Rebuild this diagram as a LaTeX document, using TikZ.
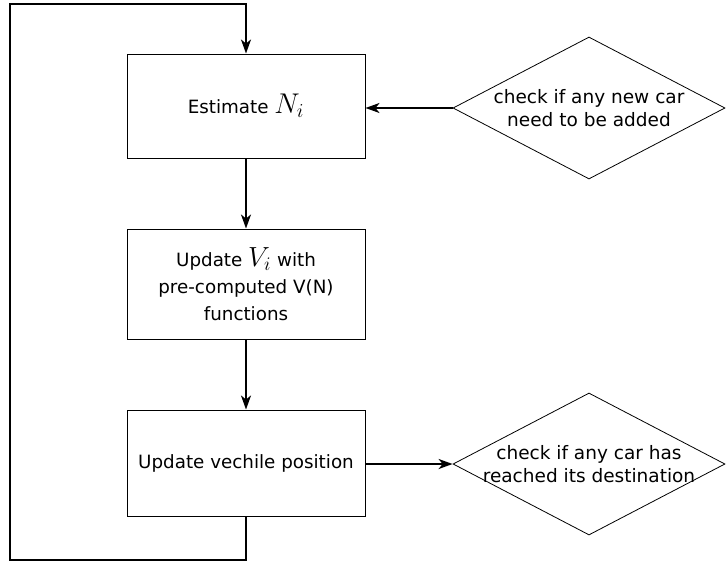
\documentclass[tikz,border=0pt]{standalone}
\usepackage{fontspec}
\setmainfont{DejaVu Sans}
\usetikzlibrary{arrows.meta,shapes.geometric}
\tikzset{
  box/.style={draw=black, line width=1pt, minimum width=238pt, inner sep=0pt, align=center, font=\fontsize{18.3}{27}\selectfont},
  dia/.style={draw=black, line width=0.8pt, shape=diamond, minimum width=272pt, minimum height=142pt, inner sep=0pt},
  diatext/.style={align=center, font=\fontsize{18.5}{23}\selectfont},
  flow/.style={line width=1.8pt, -{Stealth[length=14pt,width=10pt,inset=4pt]}}
}
\begin{document}
\begin{tikzpicture}[x=1pt,y=-1pt]
\useasboundingbox (0,0) rectangle (726,565);
\node[box, minimum height=104pt] (b1) at (246,106) {Estimate \scalebox{1.65}{$N_i$}};
\node[box, minimum height=110pt] (b2) at (246,284) {Update \scalebox{1.6}{$V_i$} with\\pre-computed V(N)\\functions};
\node[box, minimum height=106pt] (b3) at (246,463) {Update vechile position};
\node[dia] (d1) at (589,108) {};
\node[diatext] (t1) at (d1.center) {check if any new car\\need to be added};
\node[dia] (d2) at (589,464) {};
\node[diatext] (t2) at (d2.center) {check if any car has\\reached its destination};
\coordinate (c1) at (246,560);
\coordinate (c2) at (10,560);
\coordinate (c3) at (10,4);
\coordinate (c4) at (246,4);
\draw[flow] (b1.south) -- (b2.north);
\draw[flow] (b2.south) -- (b3.north);
\draw[flow] (d1.west) -- (d1.west -| b1.east);
\draw[flow] (b3.east |- d2.west) -- (d2.west);
\draw[flow] (b3.south) -- (c1) -- (c2) -- (c3) -- (c4) -- (b1.north);
\end{tikzpicture}
\end{document}
